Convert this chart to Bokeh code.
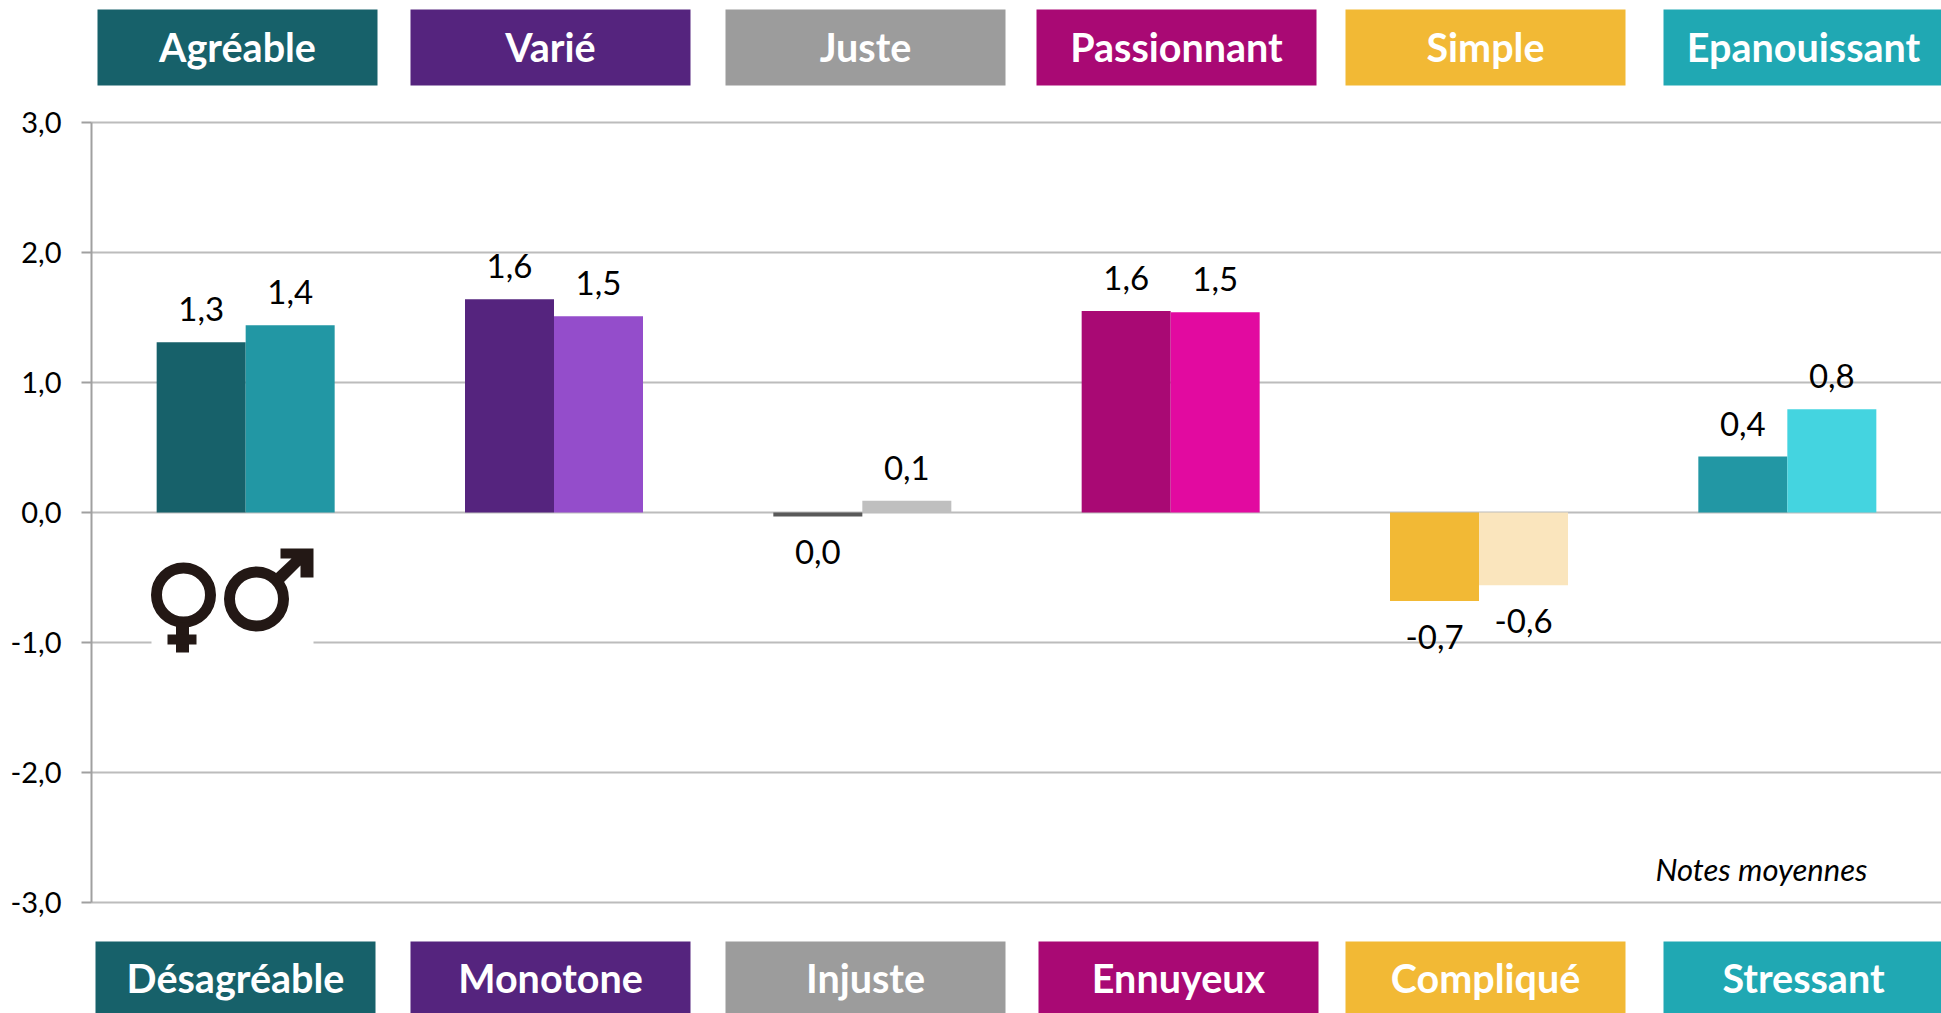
from bokeh.plotting import figure
from bokeh.embed import file_html
from bokeh.resources import INLINE
from bokeh.models import BoxAnnotation, Label, FixedTicker, Range1d
from bokeh.core.properties import value

top_words = ["Agréable", "Varié", "Juste", "Passionnant", "Simple", "Epanouissant"]
bottom_words = ["Désagréable", "Monotone", "Injuste", "Ennuyeux", "Compliqué", "Stressant"]
women = [1.31, 1.64, -0.03, 1.55, -0.68, 0.43]
men = [1.44, 1.51, 0.09, 1.54, -0.56, 0.795]
women_labels = ["1,3", "1,6", "0,0", "1,6", "-0,7", "0,4"]
men_labels = ["1,4", "1,5", "0,1", "1,5", "-0,6", "0,8"]
women_colors = ["#17616a", "#55247e", "#595959", "#a90974", "#f2b935", "#2297a4"]
men_colors = ["#2297a4", "#944dcb", "#bfbfbf", "#e20aa0", "#fae5bd", "#44d4e0"]
box_colors = ["#17616a", "#55247e", "#9c9c9c", "#a90974", "#f2b935", "#20a8b3"]
y_ticks = [-3, -2, -1, 0, 1, 2, 3]
y_tick_labels = ["-3,0", "-2,0", "-1,0", "0,0", "1,0", "2,0", "3,0"]
note = "Notes moyennes"

FONT = "Lato"
W, H = 1941, 1013
L, R, T, B = 91, 1941, 122, 902   # where the value scale sits on the page, px
top_x = [97, 410, 725, 1036, 1345, 1663]
bot_x = [95, 410, 725, 1038, 1345, 1663]
BOX_W = 280

fx = lambda px: (px - L) / (R - L) * 6
fy = lambda py: 3 - (py - T) / (B - T) * 6

p = figure(width=W, height=H, output_backend="svg", toolbar_location=None,
           x_range=Range1d(fx(0), fx(W)), y_range=Range1d(fy(H), fy(0)),
           min_border_left=0, min_border_right=0, min_border_top=0,
           min_border_bottom=0, outline_line_color=None,
           background_fill_color="white", border_fill_color="white")
p.xaxis.visible = False
p.xgrid.visible = False
p.ygrid.visible = False
ax = p.yaxis[0]
ax.fixed_location = 0
ax.bounds = (-3, 3)
ax.ticker = FixedTicker(ticks=y_ticks)
ax.major_label_overrides = {t: s for t, s in zip(y_ticks, y_tick_labels)}
ax.axis_line_color = "#a0a0a0"
ax.axis_line_width = 2
ax.major_tick_line_color = "#a0a0a0"
ax.major_tick_line_width = 2
ax.major_tick_in = 0
ax.major_tick_out = 10
ax.minor_tick_line_color = None
ax.major_label_text_font = FONT
ax.major_label_text_font_size = "29px"
ax.major_label_text_color = "black"
ax.major_label_standoff = 20

p.segment(x0=[0] * len(y_ticks), x1=[6] * len(y_ticks), y0=y_ticks, y1=y_ticks,
          line_color="#bcbcbc", line_width=2)

BAR = 89 / ((R - L) / 6)
n = len(women)
p.vbar(x=[i + 0.5 - BAR / 2 for i in range(n)], top=women, bottom=0, width=BAR,
       fill_color=women_colors, line_color=None)
p.vbar(x=[i + 0.5 + BAR / 2 for i in range(n)], top=men, bottom=0, width=BAR,
       fill_color=men_colors, line_color=None)

def offs(vals):
    return [-33 if v > 0 else 36 for v in vals]

p.text(x=[i + 0.5 - BAR / 2 for i in range(n)], y=women, text=women_labels, y_offset=offs(women),
       text_align="center", text_baseline="alphabetic", text_font=value(FONT),
       text_font_size="33px", text_color="black")
p.text(x=[i + 0.5 + BAR / 2 for i in range(n)], y=men, text=men_labels, y_offset=offs(men),
       text_align="center", text_baseline="alphabetic", text_font=value(FONT),
       text_font_size="33px", text_color="black")

# gender symbols
INK = "#231815"
p.quad(left=[fx(151)], right=[fx(313)], top=[fy(625)], bottom=[fy(660)], fill_color="white", line_color=None)
p.scatter(x=[fx(183)], y=[fy(594.5)], marker="circle", size=54, fill_color=None, line_color=INK, line_width=11)
p.scatter(x=[fx(256)], y=[fy(598.5)], marker="circle", size=54, fill_color=None, line_color=INK, line_width=11)
p.quad(left=[fx(175.5)], right=[fx(188.5)], top=[fy(622)], bottom=[fy(652)], fill_color=INK, line_color=None)
p.quad(left=[fx(167)], right=[fx(196)], top=[fy(634)], bottom=[fy(644)], fill_color=INK, line_color=None)
arrow = [(280, 548), (313, 548), (313, 577), (300, 577), (300, 565), (281, 584), (274, 574), (291, 558), (280, 558)]
p.patch(x=[fx(a) for a, _ in arrow], y=[fy(b) for _, b in arrow], fill_color=INK, line_color=None)

def header(x0, y0, y1, ty, color, word):
    p.add_layout(BoxAnnotation(left=x0, right=min(x0 + BOX_W, W), top=y0, bottom=y1,
                               left_units="canvas", right_units="canvas", top_units="canvas", bottom_units="canvas",
                               fill_color=color, fill_alpha=1, line_color=None))
    p.add_layout(Label(x=x0 + BOX_W / 2, y=ty, x_units="canvas", y_units="canvas",
                       text=word, text_color="white", text_font=FONT, text_font_style="bold",
                       text_font_size="39.5px", text_align="center", text_baseline="middle"))

for i in range(6):
    header(top_x[i], 9, 85, 46, box_colors[i], top_words[i])
    header(bot_x[i], 941, 1013, 977, box_colors[i], bottom_words[i])

p.add_layout(Label(x=1655, y=868, x_units="canvas", y_units="canvas", text=note, text_color="black",
                   text_font=FONT, text_font_style="italic", text_font_size="31px",
                   text_align="left", text_baseline="middle"))

open("out.html", "w").write(file_html(p, INLINE))
